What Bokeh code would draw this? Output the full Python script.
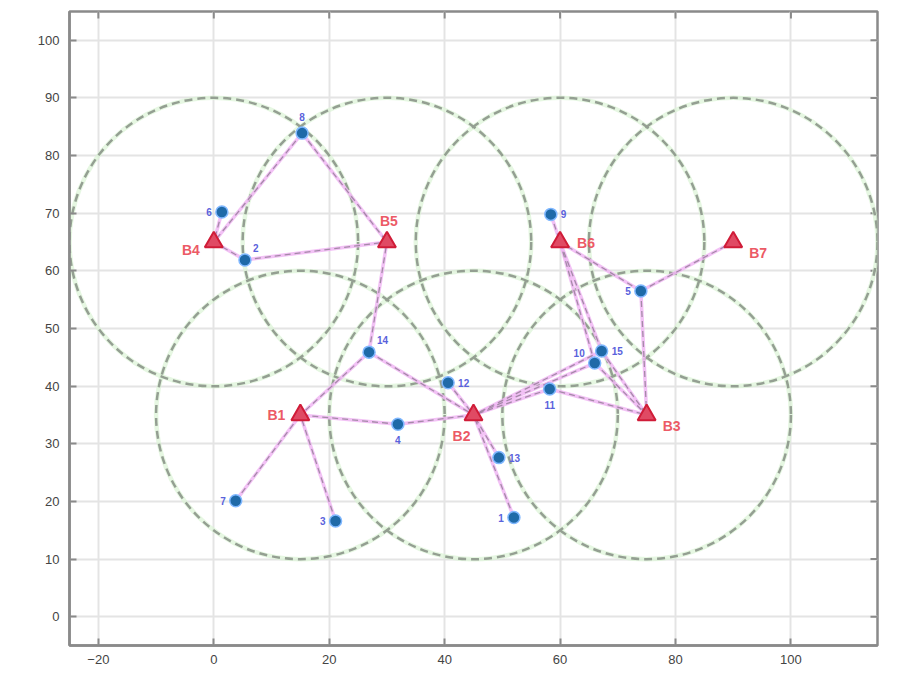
from bokeh.plotting import figure
from bokeh.models import ColumnDataSource, Range1d, FixedTicker
from bokeh.core.properties import value
from bokeh.embed import file_html
from bokeh.resources import INLINE

# ---- data ----
bs_names = ["B1", "B2", "B3", "B4", "B5", "B6", "B7"]
bs_x = [15, 45, 75, 0, 30, 60, 90]
bs_y = [35, 35, 35, 65, 65, 65, 65]
coverage_radius = 25

user_ids = ["1", "2", "3", "4", "5", "6", "7", "8", "9", "10", "11", "12", "13", "14", "15"]
user_x = [52.0, 5.4, 21.1, 31.9, 74.0, 1.4, 3.8, 15.3, 58.4, 66.0, 58.2, 40.6, 49.4, 26.9, 67.2]
user_y = [17.2, 61.9, 16.6, 33.4, 56.5, 70.2, 20.1, 83.9, 69.8, 44.0, 39.5, 40.6, 27.6, 45.9, 46.1]
user_label_side = ["left", "upright", "left", "below", "left", "left", "left", "above",
                   "right", "upleft", "below", "right", "right", "upright", "right"]
bs_label_side = ["left", "below", "downright", "downleft", "above", "right", "downright"]

x_ticks = [-20, 0, 20, 40, 60, 80, 100]
y_ticks = [0, 10, 20, 30, 40, 50, 60, 70, 80, 90, 100]
x_lim = (-25, 115)
y_lim = (-5, 105)

# user -> base station associations
link_user = ["8", "8", "2", "2", "6", "14", "14", "14", "4", "4", "7", "3", "12", "13", "1",
             "11", "10", "15", "11", "10", "15", "10", "15", "5", "5", "5", "9"]
link_bs = ["B4", "B5", "B4", "B5", "B4", "B5", "B1", "B2", "B1", "B2", "B1", "B1", "B2", "B2", "B2",
           "B2", "B2", "B2", "B3", "B6", "B6", "B3", "B3", "B6", "B7", "B3", "B6"]

# ---- figure ----
p = figure(width=880, height=670, output_backend="svg", toolbar_location=None,
           x_range=Range1d(*x_lim), y_range=Range1d(*y_lim),
           min_border_left=69, min_border_top=11, min_border_right=3, min_border_bottom=25)
p.background_fill_color = "white"
p.border_fill_color = "white"
p.outline_line_color = "#8a8a8a"
p.outline_line_width = 2.5
p.xgrid.grid_line_color = "#e4e4e4"
p.ygrid.grid_line_color = "#e4e4e4"
p.xgrid.grid_line_width = 2
p.ygrid.grid_line_width = 2

xt = FixedTicker(ticks=x_ticks)
yt = FixedTicker(ticks=y_ticks)
p.xaxis.ticker = xt
p.yaxis.ticker = yt
p.xgrid.ticker = xt
p.ygrid.ticker = yt
for ax in (p.xaxis[0], p.yaxis[0]):
    ax.axis_line_color = "#8a8a8a"
    ax.axis_line_width = 2.5
    ax.major_tick_in = 7
    ax.major_tick_out = 0
    ax.minor_tick_line_color = None
    ax.major_tick_line_color = "#8a8a8a"
    ax.major_tick_line_width = 2
    ax.major_label_text_font = "Liberation Sans"
    ax.major_label_text_font_size = "13px"
    ax.major_label_text_color = "#444444"
p.xaxis.major_label_standoff = 9
p.yaxis.major_label_standoff = 10

# inner tick marks on the right and top edges of the box
tick_len_x = (x_lim[1] - x_lim[0]) * 7 / 808
tick_len_y = (y_lim[1] - y_lim[0]) * 7 / 634
p.segment(x0=[x_lim[1]] * len(y_ticks), y0=y_ticks, x1=[x_lim[1] - tick_len_x] * len(y_ticks),
          y1=y_ticks, line_color="#8a8a8a", line_width=2)
p.segment(x0=x_ticks, y0=[y_lim[1]] * len(x_ticks), x1=x_ticks,
          y1=[y_lim[1] - tick_len_y] * len(x_ticks), line_color="#8a8a8a", line_width=2)

# coverage circles
p.circle(x=bs_x, y=bs_y, radius=coverage_radius, fill_color=None,
         line_color="#dcf3d6", line_width=4.5, line_alpha=0.7)
p.circle(x=bs_x, y=bs_y, radius=coverage_radius, fill_color=None,
         line_color="#949f92", line_width=2.5, line_dash="8 5")

# links
uidx = {u: i for i, u in enumerate(user_ids)}
bidx = {b: i for i, b in enumerate(bs_names)}
xs = [[user_x[uidx[u]], bs_x[bidx[b]]] for u, b in zip(link_user, link_bs)]
ys = [[user_y[uidx[u]], bs_y[bidx[b]]] for u, b in zip(link_user, link_bs)]
p.multi_line(xs=xs, ys=ys, line_color="#f0b6f3", line_width=3.5, line_alpha=0.85)
p.multi_line(xs=xs, ys=ys, line_color="#a58aa8", line_width=1.3, line_dash="6 4")

# users
p.scatter(x=user_x, y=user_y, size=12, marker="circle", fill_color="#1f6aa8",
          line_color="#80b8ff", line_width=1.5)

# base stations
p.scatter(x=bs_x, y=bs_y, size=18, marker="triangle", fill_color="#e04a64",
          line_color="#d01c38", line_width=2)

u_offs = {"left": (-10, 0, "right", "middle"), "right": (10, 0, "left", "middle"),
          "above": (0, -12, "center", "bottom"), "below": (0, 12, "center", "top"),
          "upright": (8, -8, "left", "bottom"), "upleft": (-10, -6, "right", "bottom")}
b_offs = {"left": (-15, 0, "right", "middle"), "right": (17, 1, "left", "middle"),
          "above": (2, -13, "center", "bottom"), "below": (-3, 13, "right", "top"),
          "downright": (16, 11, "left", "middle"), "downleft": (-14, 8, "right", "middle")}

usrc = ColumnDataSource(dict(x=user_x, y=user_y, t=user_ids,
                             xo=[u_offs[s][0] for s in user_label_side],
                             yo=[u_offs[s][1] for s in user_label_side],
                             al=[u_offs[s][2] for s in user_label_side],
                             bl=[u_offs[s][3] for s in user_label_side]))
p.text(x="x", y="y", text="t", source=usrc, x_offset="xo", y_offset="yo",
       text_align="al", text_baseline="bl", text_font=value("Liberation Sans"),
       text_font_size="10px", text_color="#5a62dc", text_font_style="bold")

bsrc = ColumnDataSource(dict(x=bs_x, y=bs_y, t=bs_names,
                             xo=[b_offs[s][0] for s in bs_label_side],
                             yo=[b_offs[s][1] for s in bs_label_side],
                             al=[b_offs[s][2] for s in bs_label_side],
                             bl=[b_offs[s][3] for s in bs_label_side]))
p.text(x="x", y="y", text="t", source=bsrc, x_offset="xo", y_offset="yo",
       text_align="al", text_baseline="bl", text_font=value("Liberation Sans"),
       text_font_size="14px", text_color="#ec5a66", text_font_style="bold")

open("out.html", "w").write(file_html(p, INLINE))
